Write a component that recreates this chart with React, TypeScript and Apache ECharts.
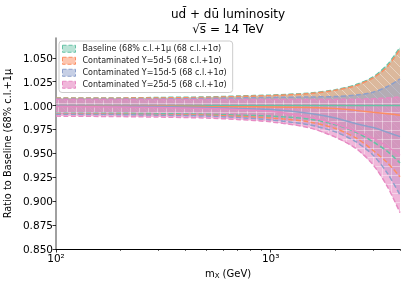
import React, { useEffect, useRef } from 'react';
import * as echarts from 'echarts';

// x values (GeV)
const massGeV = [100, 200, 300, 500, 700, 1000, 1500, 2000, 2500, 3000, 3500, 4000];

const baselineCentral = [1.0, 1.0, 1.0, 1.0, 1.0, 1.0, 1.0, 1.0, 1.0, 1.0, 1.0, 1.0];
const baselineUpper = [1.008, 1.008, 1.0085, 1.009, 1.01, 1.011, 1.013, 1.0165, 1.022, 1.03, 1.043, 1.061];
const baselineLower = [0.992, 0.992, 0.9915, 0.991, 0.99, 0.989, 0.986, 0.98, 0.972, 0.962, 0.952, 0.94];

const y5Central = [0.9995, 0.9995, 0.9995, 0.999, 0.9988, 0.9985, 0.998, 0.997, 0.995, 0.993, 0.9915, 0.99];
const y5Upper = [1.0078, 1.0078, 1.008, 1.0085, 1.0095, 1.0105, 1.0125, 1.016, 1.021, 1.029, 1.041, 1.059];
const y5Lower = [0.9915, 0.991, 0.9905, 0.99, 0.9888, 0.987, 0.983, 0.976, 0.966, 0.953, 0.94, 0.9256];

const y15Central = [0.9995, 0.9993, 0.999, 0.998, 0.997, 0.996, 0.992, 0.987, 0.981, 0.977, 0.972, 0.9675];
const y15Upper = [1.007, 1.007, 1.007, 1.0075, 1.008, 1.0085, 1.009, 1.0095, 1.011, 1.014, 1.02, 1.028];
const y15Lower = [0.991, 0.9905, 0.99, 0.989, 0.9875, 0.985, 0.98, 0.9725, 0.962, 0.948, 0.929, 0.9065];

const y25Central = [0.999, 0.9985, 0.998, 0.997, 0.996, 0.994, 0.988, 0.981, 0.973, 0.966, 0.957, 0.948];
const y25Upper = [1.0065, 1.0065, 1.0065, 1.0065, 1.0065, 1.0065, 1.0065, 1.0065, 1.0068, 1.0072, 1.008, 1.009];
const y25Lower = [0.989, 0.9885, 0.988, 0.987, 0.9855, 0.983, 0.977, 0.967, 0.955, 0.938, 0.915, 0.888];

const seriesNames = [
  'Baseline (68% c.l.+1μ (68 c.l.+1σ)',
  'Contaminated Y=5d-5 (68 c.l.+1σ)',
  'Contaminated Y=15d-5 (68 c.l.+1σ)',
  'Contaminated Y=25d-5 (68 c.l.+1σ)',
];
const colors = ['#66c2a5', '#fc8d62', '#8da0cb', '#e78ac3'];
const fills = ['rgba(102,194,165,0.45)', 'rgba(252,141,98,0.5)', 'rgba(141,160,203,0.5)', 'rgba(231,138,195,0.62)'];

const yTickValues = [0.85, 0.875, 0.9, 0.925, 0.95, 0.975, 1.0, 1.025, 1.05];
const xMajorTicks = [100, 1000];
const xMinorTicks = [200, 300, 400, 500, 600, 700, 800, 900, 2000, 3000, 4000];

const groups = [
  { c: baselineCentral, u: baselineUpper, l: baselineLower },
  { c: y5Central, u: y5Upper, l: y5Lower },
  { c: y15Central, u: y15Upper, l: y15Lower },
  { c: y25Central, u: y25Upper, l: y25Lower },
];

const FONT = 'DejaVu Sans';

function makeHatch(kind: number): any {
  try {
    const cv = document.createElement('canvas');
    cv.width = 9;
    cv.height = 9;
    const ctx = cv.getContext('2d');
    if (!ctx) return null;
    ctx.strokeStyle = 'rgba(255,255,255,0.38)';
    ctx.lineWidth = 1;
    ctx.beginPath();
    if (kind === 3) {
      ctx.moveTo(4.5, 0);
      ctx.lineTo(4.5, 9);
      ctx.moveTo(0, 4.5);
      ctx.lineTo(9, 4.5);
    } else if (kind === 1) {
      ctx.moveTo(0, 0);
      ctx.lineTo(9, 9);
    } else {
      ctx.moveTo(0, 9);
      ctx.lineTo(9, 0);
    }
    ctx.stroke();
    return { image: cv, repeat: 'repeat' };
  } catch (e) {
    return null;
  }
}

export default function App() {
  const ref = useRef<HTMLDivElement>(null);
  useEffect(() => {
    const chart = echarts.init(ref.current as HTMLDivElement, null, { renderer: 'svg' });
    const series: any[] = [];
    groups.forEach((g, i) => {
      const hatch = makeHatch(i);
      const polyPoints = (api: any) => {
        const pts: number[][] = [];
        massGeV.forEach((m, k) => pts.push(api.coord([m, g.u[k]])));
        for (let k = massGeV.length - 1; k >= 0; k--) pts.push(api.coord([massGeV[k], g.l[k]]));
        return pts;
      };
      series.push({
        type: 'custom',
        name: seriesNames[i],
        data: [[massGeV[0], g.c[0]]],
        clip: true,
        z: 1 + i,
        itemStyle: { color: fills[i] },
        renderItem: (_p: any, api: any) => {
          const pts = polyPoints(api);
          const children: any[] = [
            { type: 'polygon', shape: { points: pts }, style: { fill: fills[i], stroke: 'none' } },
          ];
          if (hatch && (i === 1 || i === 3)) {
            children.push({ type: 'polygon', shape: { points: pts }, style: { fill: hatch, stroke: 'none' } });
          }
          return { type: 'group', children };
        },
      });
      const mk = (vals: number[], dashed: boolean, suffix: string) => ({
        type: 'line',
        name: seriesNames[i] + suffix,
        data: massGeV.map((m, k) => [m, vals[k]]),
        showSymbol: false,
        smooth: 0.3,
        z: 10 + i,
        lineStyle: { color: colors[i], width: 1.5, type: dashed ? [5, 2.5] : 'solid' },
        silent: true,
      });
      series.push(mk(g.c, false, ' c'));
      series.push(mk(g.u, true, ' u'));
      series.push(mk(g.l, true, ' l'));
    });

    chart.setOption({
      animation: false,
      textStyle: { fontFamily: FONT },
      grid: { left: 56, right: 7, top: 38, bottom: 37, containLabel: false, outerBoundsMode: 'none' },
      graphic: [
        {
          type: 'text',
          x: 228,
          y: 13.5,
          style: {
            text: 'ud\u0304 + d\u016B luminosity',
            font: `12px "${FONT}"`,
            fill: '#000',
            textAlign: 'center',
            textVerticalAlign: 'middle',
          },
        },
        {
          type: 'text',
          x: 228,
          y: 28.5,
          style: {
            text: '\u221As\u0305 = 14 TeV',
            font: `12px "${FONT}"`,
            fill: '#000',
            textAlign: 'center',
            textVerticalAlign: 'middle',
          },
        },
      ],
      legend: {
        orient: 'vertical',
        left: 59,
        top: 41,
        icon: 'rect',
        itemWidth: 13,
        itemHeight: 7,
        itemGap: 2.5,
        padding: [3, 6, 3, 3],
        backgroundColor: '#fff',
        borderColor: '#cccccc',
        borderWidth: 1,
        borderRadius: 3,
        textStyle: { fontSize: 8, fontFamily: FONT, color: '#222', lineHeight: 9.5, padding: [0, 0, 0, 2] },
        data: seriesNames.map((n, i) => ({
          name: n,
          itemStyle: { color: fills[i], borderColor: colors[i], borderWidth: 1, borderType: 'dashed' },
        })),
        selectedMode: false,
        z: 20,
      },
      xAxis: [
        {
          type: 'log',
          logBase: 10,
          min: 100,
          max: 4000,
          name: '{m|m}{s|X} (GeV)',
          nameLocation: 'middle',
          nameGap: 19,
          nameTextStyle: {
            fontSize: 10,
            color: '#000',
            rich: {
              m: { fontSize: 10, fontFamily: FONT, color: '#000' },
              s: { fontSize: 7, fontFamily: FONT, color: '#000', padding: [4, 0, 0, 0] },
            },
          },
          axisLine: { show: true, lineStyle: { color: '#000', width: 1 } },
          axisTick: { show: true, customValues: xMajorTicks, length: 3.5, lineStyle: { color: '#000', width: 0.8 } },
          axisLabel: {
            customValues: xMajorTicks,
            fontSize: 10.5,
            color: '#000',
            margin: 3,
            formatter: (v: number) => {
              const e = Math.round(Math.log10(v));
              return '10' + (e === 2 ? '\u00B2' : e === 3 ? '\u00B3' : String(e));
            },
          },
          splitLine: { show: false },
          minorTick: { show: false },
        },
        {
          type: 'log',
          logBase: 10,
          min: 100,
          max: 4000,
          gridIndex: 0,
          position: 'bottom',
          axisLine: { show: false },
          axisTick: { show: true, customValues: xMinorTicks, length: 2, lineStyle: { color: '#000', width: 0.6 } },
          axisLabel: { show: false },
          splitLine: { show: false },
        },
      ],
      yAxis: {
        type: 'value',
        min: 0.85,
        max: 1.0707,
        name: 'Ratio to Baseline (68% c.l.+1μ',
        nameLocation: 'middle',
        nameGap: 35,
        nameTextStyle: { fontSize: 9.8, color: '#000', fontFamily: FONT },
        axisLine: { show: true, lineStyle: { color: '#808080', width: 1.5 } },
        axisTick: { show: true, customValues: yTickValues, length: 3.5, lineStyle: { color: '#000', width: 0.8 } },
        axisLabel: {
          customValues: yTickValues,
          fontSize: 10.5,
          color: '#000',
          margin: 3,
          formatter: (v: number) => v.toFixed(3),
        },
        splitLine: { show: false },
      },
      series,
    });
    return () => chart.dispose();
  }, []);
  return <div ref={ref} style={{ position: 'fixed', left: 0, top: 0, width: 407, height: 286 }} />;
}
